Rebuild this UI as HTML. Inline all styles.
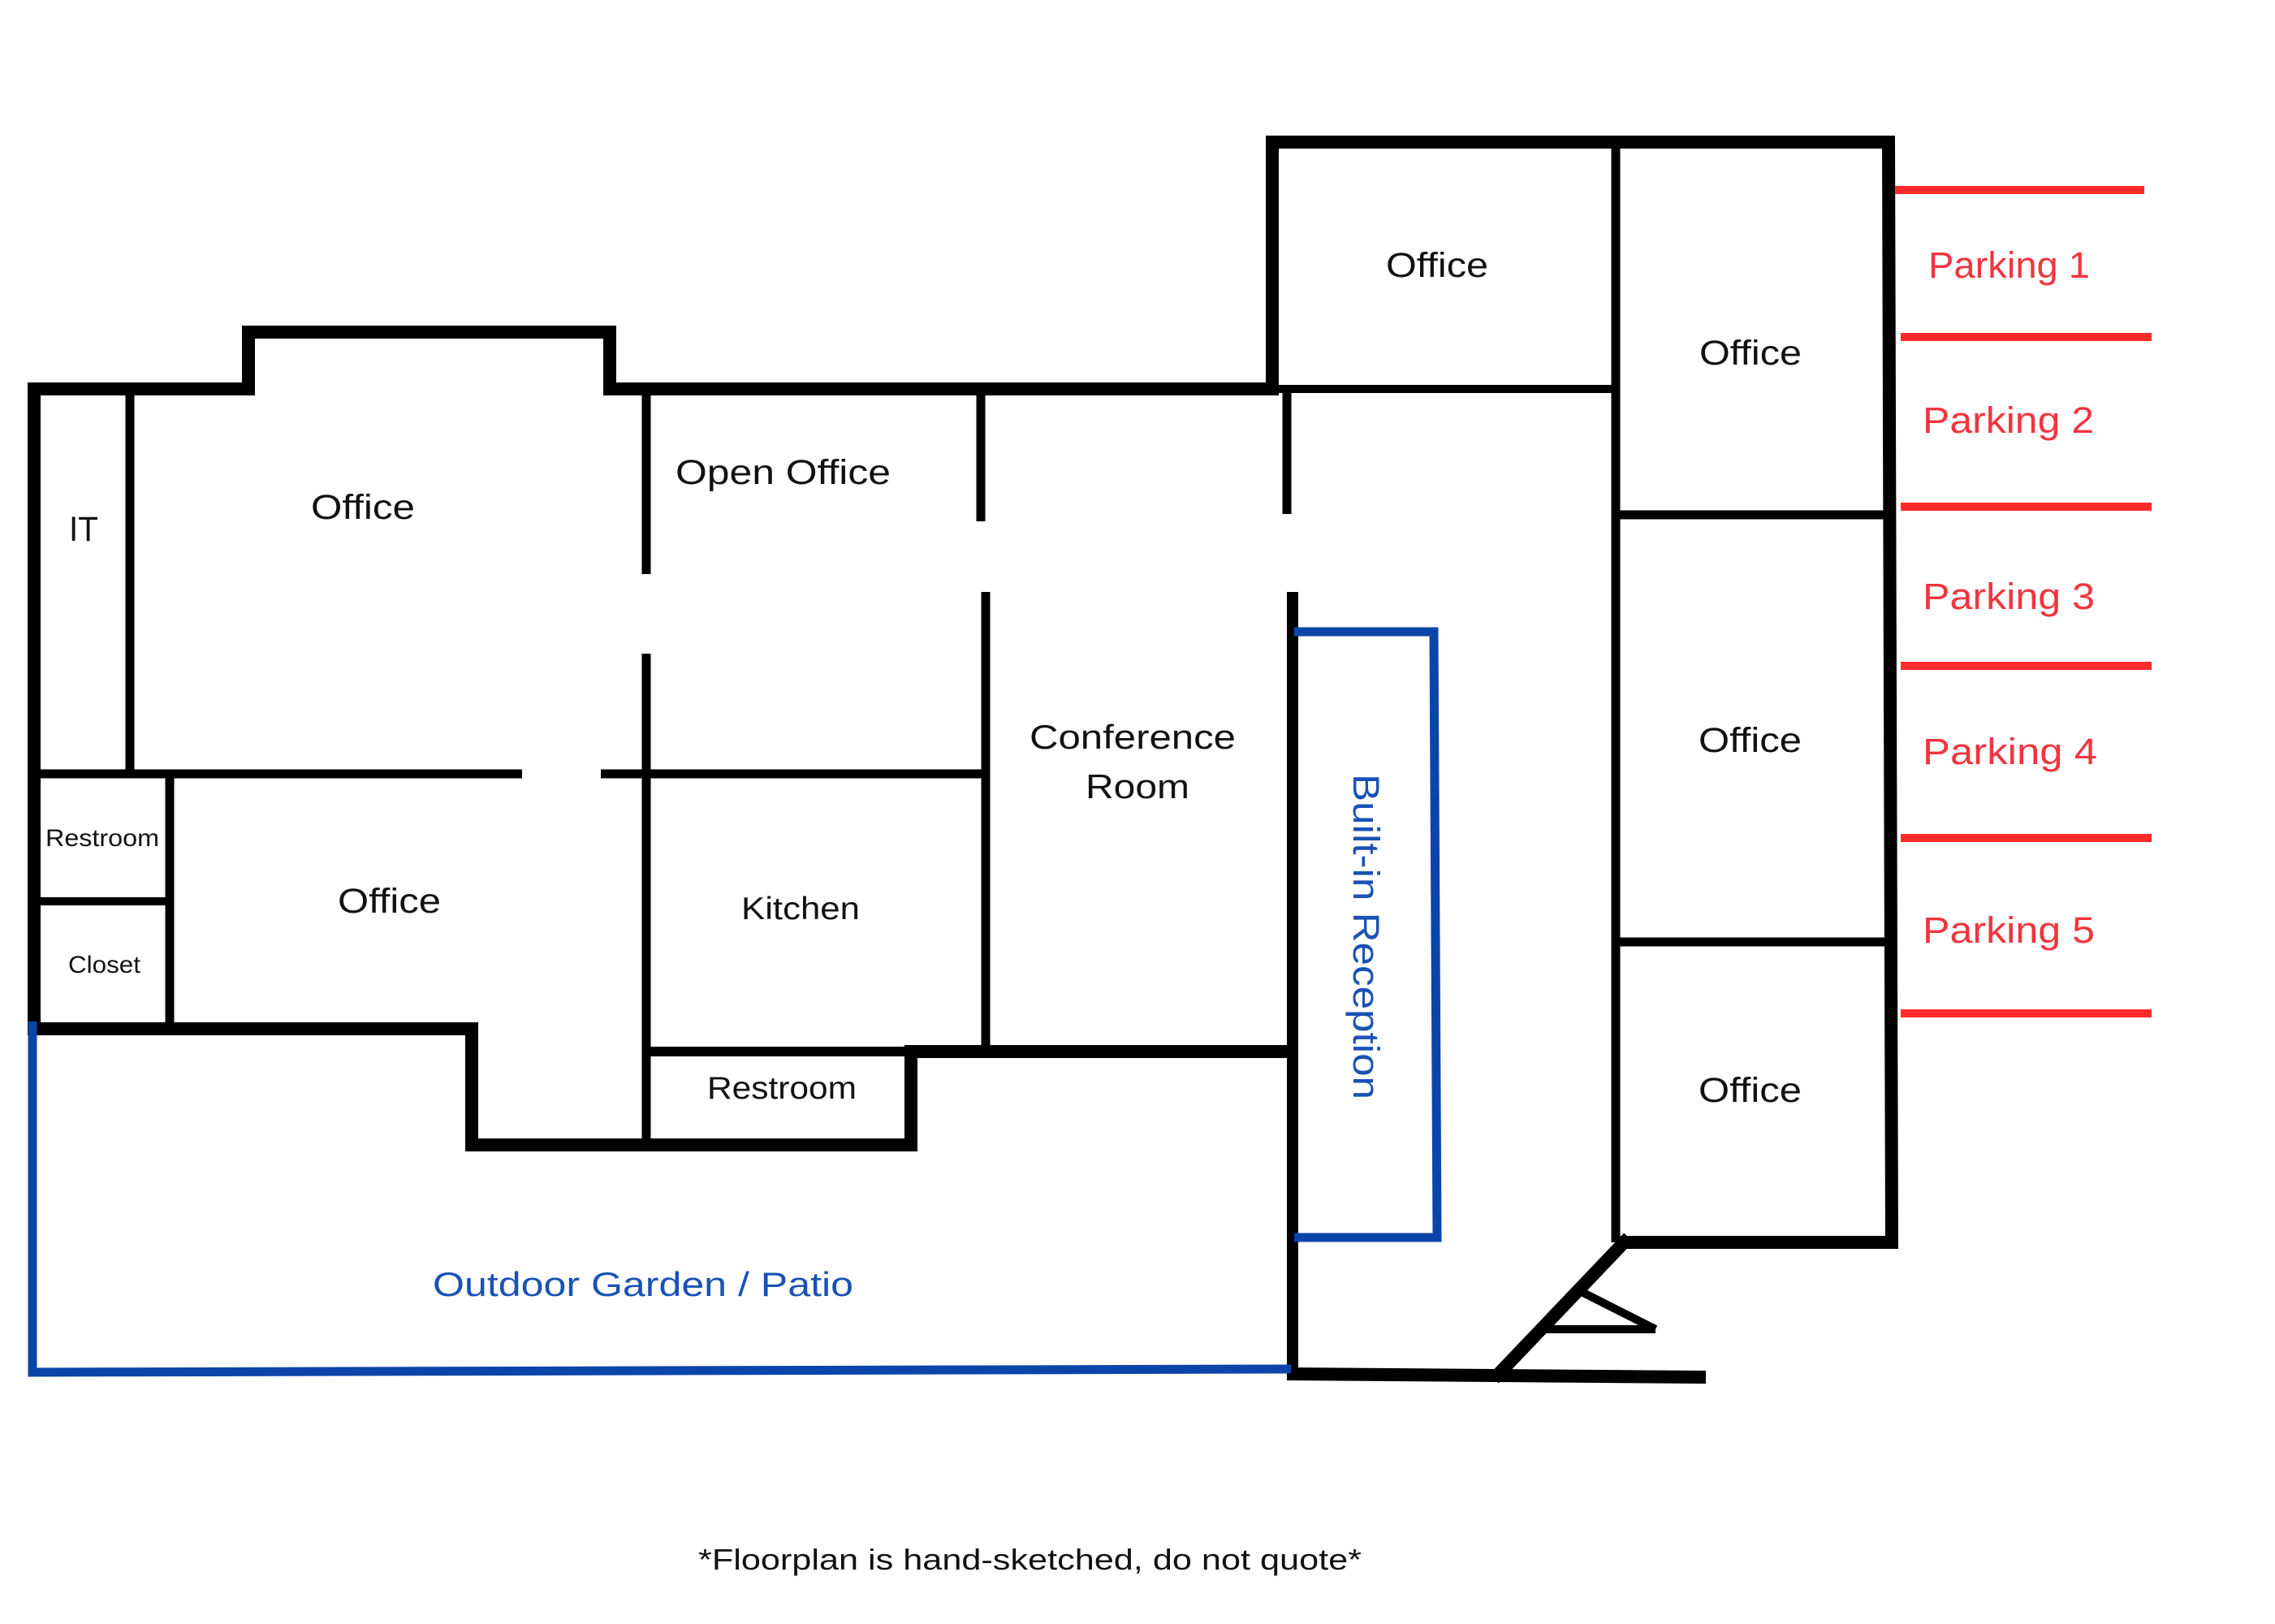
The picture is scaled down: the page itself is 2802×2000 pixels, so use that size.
<!DOCTYPE html>
<html>
<head>
<meta charset="utf-8">
<style>
  html, body { margin: 0; padding: 0; background: #ffffff; }
  svg { display: block; }
  text { font-family: "Liberation Sans", "DejaVu Sans", sans-serif; }
</style>
</head>
<body>
<svg width="2802" height="2000" viewBox="0 0 2802 2000" xmlns="http://www.w3.org/2000/svg">
  <rect x="0" y="0" width="2802" height="2000" fill="#ffffff"/>

  <!-- Thick walls -->
  <g fill="none" stroke="#000" stroke-linejoin="miter" stroke-linecap="butt">
    <polyline points="42,1275 42,479 306,479 306,409 751,409 751,479 1573,479" stroke-width="16"/>
    <polyline points="1567,487 1567,175 2326,175 2330,1530 1990,1530" stroke-width="16"/>
    <polyline points="34,1267 581,1267 581,1410 1122,1410 1122,1295 1599,1295" stroke-width="16"/>
    <line x1="1592" y1="729" x2="1592" y2="1698" stroke-width="14"/>
    <line x1="1585" y1="1692" x2="2101" y2="1696" stroke-width="16"/>
    <line x1="2006" y1="1524" x2="1840" y2="1698" stroke-width="16"/>
  </g>

  <!-- Thin walls -->
  <g fill="none" stroke="#000" stroke-linecap="butt">
    <line x1="160" y1="479" x2="160" y2="953" stroke-width="11"/>
    <line x1="42" y1="953" x2="643" y2="953" stroke-width="11"/>
    <line x1="740" y1="953" x2="1219" y2="953" stroke-width="11"/>
    <line x1="209" y1="953" x2="209" y2="1267" stroke-width="11"/>
    <line x1="42" y1="1110" x2="209" y2="1110" stroke-width="10"/>
    <line x1="796" y1="479" x2="796" y2="707" stroke-width="11"/>
    <line x1="796" y1="805" x2="796" y2="1410" stroke-width="11"/>
    <line x1="1208" y1="479" x2="1208" y2="642" stroke-width="11"/>
    <line x1="1214" y1="729" x2="1214" y2="1295" stroke-width="11"/>
    <line x1="1585" y1="479" x2="1585" y2="633" stroke-width="11"/>
    <line x1="1567" y1="479" x2="1990" y2="479" stroke-width="10"/>
    <line x1="1990" y1="175" x2="1990" y2="1530" stroke-width="11"/>
    <line x1="1990" y1="634" x2="2326" y2="634" stroke-width="11"/>
    <line x1="1990" y1="1160" x2="2330" y2="1160" stroke-width="11"/>
    <line x1="796" y1="1295" x2="1122" y2="1295" stroke-width="12"/>
    <line x1="1946" y1="1590" x2="2039" y2="1637" stroke-width="10"/>
    <line x1="1902" y1="1637" x2="2039" y2="1637" stroke-width="10"/>
  </g>

  <!-- Blue outlines -->
  <g fill="none" stroke="#0b45aa" stroke-width="11" stroke-linejoin="miter">
    <polyline points="40,1258 40,1690 1590,1686"/>
    <polyline points="1594,778 1766,778 1770,1524 1594,1524"/>
  </g>

  <!-- Red parking lines -->
  <g stroke="#ff2b2b" stroke-width="10">
    <line x1="2334" y1="234" x2="2641" y2="234"/>
    <line x1="2341" y1="415" x2="2650" y2="415"/>
    <line x1="2341" y1="624" x2="2650" y2="624"/>
    <line x1="2341" y1="820" x2="2650" y2="820"/>
    <line x1="2341" y1="1032" x2="2650" y2="1032"/>
    <line x1="2341" y1="1248" x2="2650" y2="1248"/>
  </g>

  <!-- Black labels -->
  <g fill="#111">
    <text x="85" y="666" font-size="43" textLength="36" lengthAdjust="spacingAndGlyphs">IT</text>
    <text x="383" y="639" font-size="43" textLength="128" lengthAdjust="spacingAndGlyphs">Office</text>
    <text x="832" y="596" font-size="43" textLength="265" lengthAdjust="spacingAndGlyphs">Open Office</text>
    <text x="1268" y="922" font-size="42" textLength="254" lengthAdjust="spacingAndGlyphs">Conference</text>
    <text x="1337" y="983" font-size="42" textLength="128" lengthAdjust="spacingAndGlyphs">Room</text>
    <text x="56" y="1042" font-size="30" textLength="140" lengthAdjust="spacingAndGlyphs">Restroom</text>
    <text x="84" y="1198" font-size="30" textLength="89" lengthAdjust="spacingAndGlyphs">Closet</text>
    <text x="416" y="1124" font-size="43" textLength="127" lengthAdjust="spacingAndGlyphs">Office</text>
    <text x="913" y="1132" font-size="39" textLength="146" lengthAdjust="spacingAndGlyphs">Kitchen</text>
    <text x="871" y="1353" font-size="39" textLength="184" lengthAdjust="spacingAndGlyphs">Restroom</text>
    <text x="1707" y="341" font-size="43" textLength="126" lengthAdjust="spacingAndGlyphs">Office</text>
    <text x="2093" y="449" font-size="43" textLength="126" lengthAdjust="spacingAndGlyphs">Office</text>
    <text x="2092" y="926" font-size="43" textLength="127" lengthAdjust="spacingAndGlyphs">Office</text>
    <text x="2092" y="1357" font-size="43" textLength="127" lengthAdjust="spacingAndGlyphs">Office</text>
    <text x="860" y="1933" font-size="36" textLength="817" lengthAdjust="spacingAndGlyphs">*Floorplan is hand-sketched, do not quote*</text>
  </g>

  <!-- Blue labels -->
  <g fill="#1a52b5">
    <text x="533" y="1596" font-size="42" textLength="518" lengthAdjust="spacingAndGlyphs">Outdoor Garden / Patio</text>
    <text transform="translate(1667,953) rotate(90)" x="0" y="0" font-size="45" textLength="401" lengthAdjust="spacingAndGlyphs">Built-in Reception</text>
  </g>

  <!-- Red labels -->
  <g fill="#f2343f">
    <text x="2375" y="342" font-size="45" textLength="199" lengthAdjust="spacingAndGlyphs">Parking 1</text>
    <text x="2368" y="533" font-size="45" textLength="211" lengthAdjust="spacingAndGlyphs">Parking 2</text>
    <text x="2368" y="750" font-size="45" textLength="212" lengthAdjust="spacingAndGlyphs">Parking 3</text>
    <text x="2368" y="941" font-size="45" textLength="215" lengthAdjust="spacingAndGlyphs">Parking 4</text>
    <text x="2368" y="1161" font-size="45" textLength="212" lengthAdjust="spacingAndGlyphs">Parking 5</text>
  </g>
</svg>
</body>
</html>
